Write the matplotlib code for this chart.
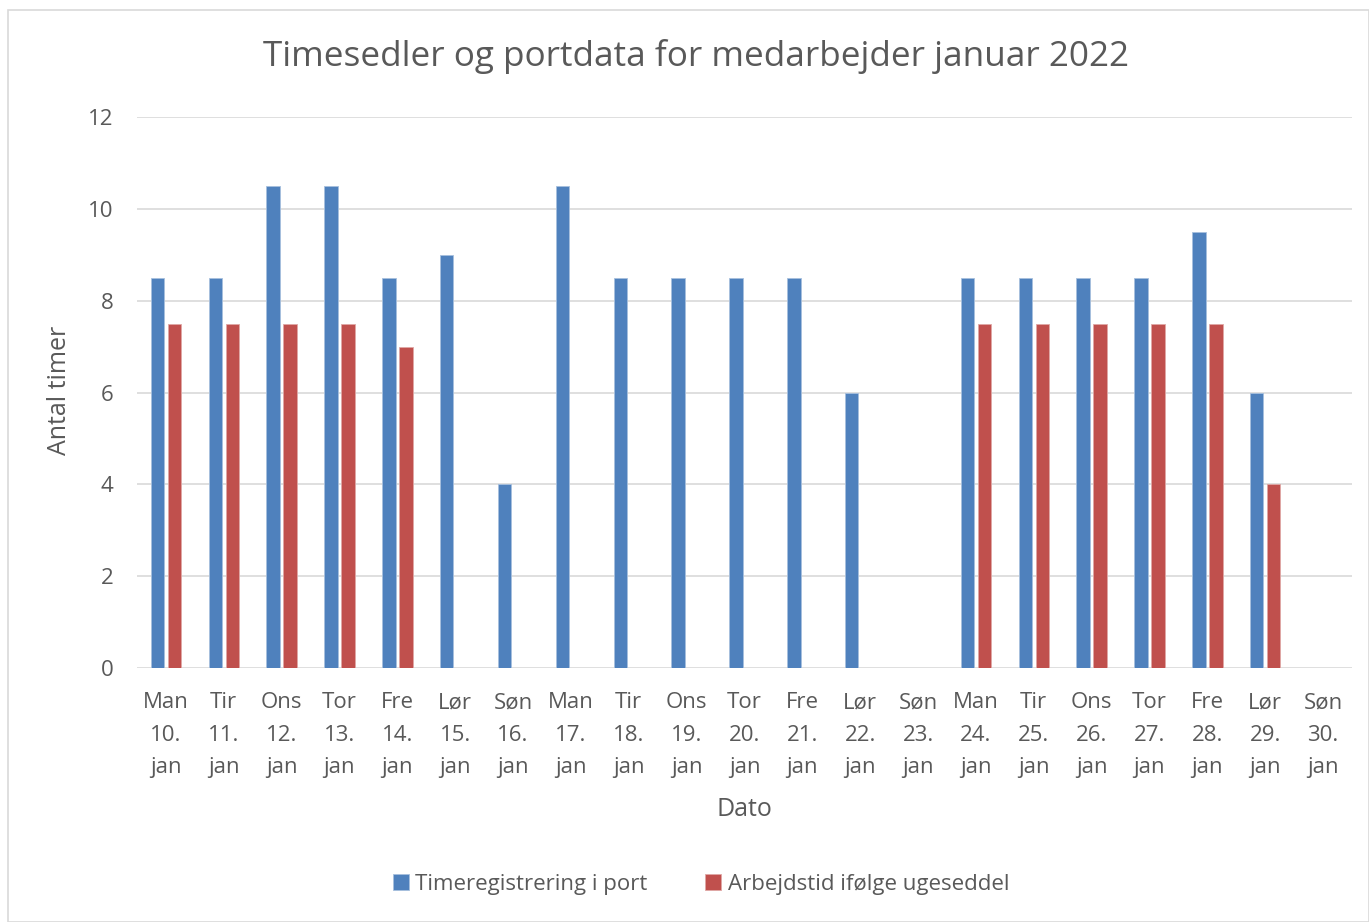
import numpy as np
import matplotlib.pyplot as plt
from matplotlib.patches import Rectangle

plt.rcParams['font.family'] = ['Open Sans', 'DejaVu Sans']

days = ['Man', 'Tir', 'Ons', 'Tor', 'Fre', 'Lør', 'Søn'] * 3
dates = list(range(10, 31))
labels = [f'{d}\n{n}.\njan' for d, n in zip(days, dates)]

port = [8.5, 8.5, 10.5, 10.5, 8.5, 9, 4, 10.5, 8.5, 8.5, 8.5, 8.5, 6, np.nan,
        8.5, 8.5, 8.5, 8.5, 9.5, 6, np.nan]
ugeseddel = [7.5, 7.5, 7.5, 7.5, 7, np.nan, np.nan, np.nan, np.nan, np.nan, np.nan,
             np.nan, np.nan, np.nan, 7.5, 7.5, 7.5, 7.5, 7.5, 4, np.nan]

grey = '#595959'
fig = plt.figure(figsize=(13.69, 9.22), dpi=100)
fig.patches.append(Rectangle((8 / 1369, 0), 1 - 8 / 1369, 1 - 10 / 922, transform=fig.transFigure,
                             fill=False, edgecolor='#d9d9d9', linewidth=1.2))
ax = fig.add_axes([137 / 1369, 1 - 668 / 922, (1352 - 137) / 1369, (668 - 117) / 922])

x = np.arange(len(labels))
w = 0.23
ax.bar(x - 0.147, port, w, color='#4F81BD', edgecolor='#a7c0de', linewidth=0.6,
       label='Timeregistrering i port', zorder=3)
ax.bar(x + 0.147, ugeseddel, w, color='#C0504D', edgecolor='#e0a8a6', linewidth=0.6,
       label='Arbejdstid ifølge ugeseddel', zorder=3)

ax.set_xlim(-0.5, len(labels) - 0.5)
ax.set_ylim(0, 12)
ax.set_yticks(range(0, 13, 2))
ax.yaxis.grid(True, color='#d9d9d9', linewidth=1.2, zorder=0)
ax.set_axisbelow(True)
for s in ax.spines.values():
    s.set_visible(False)
ax.tick_params(length=0, colors=grey, labelsize=16)
ax.tick_params(axis='y', pad=17)
ax.tick_params(axis='x', pad=17.5)
ax.set_xticks(x)
ax.set_xticklabels(labels, linespacing=1.72)

fig.text(696 / 1369, 1 - 57 / 922, 'Timesedler og portdata for medarbejder januar 2022',
         fontsize=25.3, color=grey, ha='center', va='center')
ax.set_ylabel('Antal timer', fontsize=18, color=grey)
ax.yaxis.set_label_coords(-0.0535, 0.503)
ax.set_xlabel('Dato', fontsize=18, color=grey)
ax.xaxis.set_label_coords(0.5, -0.235)

fig.legend(loc='center', bbox_to_anchor=(701 / 1369, 1 - 884 / 922), ncol=2, frameon=False,
           fontsize=16, handlelength=0.7, handleheight=0.7, columnspacing=2.6, handletextpad=0.3,
           labelcolor=grey)

fig.savefig('out.png', dpi=100)
